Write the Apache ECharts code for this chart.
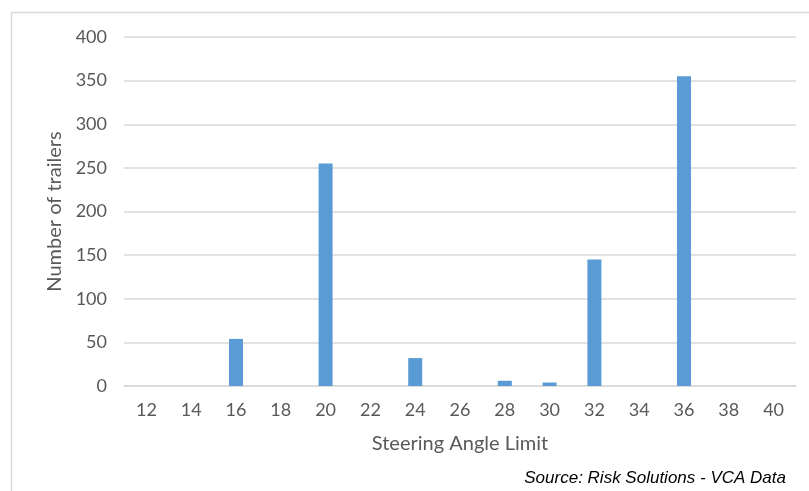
<!DOCTYPE html>
<html>
<head>
<meta charset="utf-8">
<script src="https://cdn.jsdelivr.net/npm/echarts@6/dist/echarts.min.js"></script>
<style>
  html, body { margin: 0; padding: 0; background: #fff; }
  #chart { width: 809px; height: 491px; }
</style>
</head>
<body>
<div id="chart"></div>
<script>
// Steering angle limits (degrees) and number of trailers at each limit
const angles = ['12', '14', '16', '18', '20', '22', '24', '26', '28', '30', '32', '34', '36', '38', '40'];
const trailers = [0, 0, 54, 0, 255, 0, 32, 0, 6, 4, 145, 0, 355, 0, 0];
const yTicks = { min: 0, max: 400, step: 50 };

const textColor = '#595959';
const fontFamily = 'Lato, "Open Sans", sans-serif';

const chart = echarts.init(document.getElementById('chart'));
chart.setOption({
  animation: false,
  grid: { left: 124, right: 13, top: 37, bottom: 105 },
  xAxis: {
    type: 'category',
    data: angles,
    name: 'Steering Angle Limit',
    nameLocation: 'middle',
    nameGap: 48,
    nameTextStyle: { color: textColor, fontSize: 20, fontFamily },
    axisLine: { show: true, lineStyle: { color: '#d9d9d9', width: 1.5 } },
    axisTick: { show: false },
    axisLabel: { color: textColor, fontSize: 18, fontFamily, margin: 15 }
  },
  yAxis: {
    type: 'value',
    min: yTicks.min,
    max: yTicks.max,
    interval: yTicks.step,
    name: 'Number of trailers',
    nameLocation: 'middle',
    nameGap: 51,
    nameTextStyle: { color: textColor, fontSize: 20, fontFamily },
    axisLine: { show: false },
    axisTick: { show: false },
    axisLabel: { color: textColor, fontSize: 18, fontFamily, margin: 17 },
    splitLine: { lineStyle: { color: '#d9d9d9', width: 1.5 } }
  },
  series: [{
    type: 'bar',
    data: trailers,
    barWidth: 14,
    itemStyle: { color: '#5b9bd5' }
  }],
  graphic: [
    // chart frame (top and left edges)
    { type: 'line', shape: { x1: 11, y1: 12.5, x2: 809, y2: 12.5 }, style: { stroke: '#d9d9d9', lineWidth: 1.5 } },
    { type: 'line', shape: { x1: 11.5, y1: 12, x2: 11.5, y2: 491 }, style: { stroke: '#d9d9d9', lineWidth: 1.5 } },
    {
      type: 'text',
      right: 23,
      top: 470,
      style: {
        text: 'Source: Risk Solutions - VCA Data',
        font: 'italic 17px "Liberation Sans", Arial, sans-serif',
        fill: '#000'
      }
    }
  ]
});
</script>
</body>
</html>
